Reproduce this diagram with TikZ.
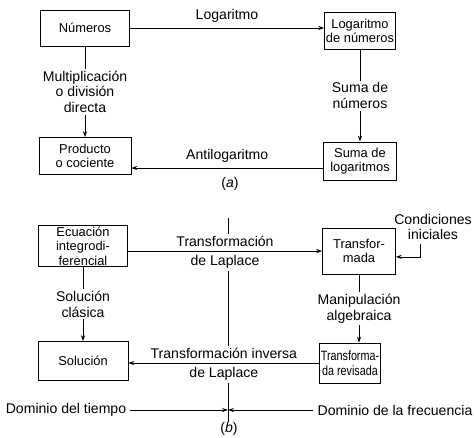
\documentclass[tikz,border=0pt]{standalone}
\usepackage{fontspec}
\setmainfont{Liberation Sans}
\newfontfamily\narrowfont[FakeStretch=0.8]{Liberation Sans}
\usetikzlibrary{arrows.meta}

\begin{document}
\begin{tikzpicture}[
  x=0.03cm, y=-0.03cm,
  font=\fontsize{12}{13.5}\selectfont,
  box/.style={draw, line width=0.7pt, align=center, inner sep=1pt, font=\fontsize{11}{12.5}\selectfont},
  lbl/.style={align=center, inner sep=1.5pt, fill=white},
  >={Stealth[length=5pt,width=3.5pt]}, line width=0.6pt
]
\useasboundingbox (0,0) rectangle (474,437);

% (a) logaritmos
\node[box, minimum width=2.67cm, minimum height=1.08cm] (num) at (85,28) {Números};
\node[box, minimum width=2.13cm, minimum height=1.11cm] (logn) at (360,31) {Logaritmo\\de números};
\node[box, minimum width=2.76cm, minimum height=1.11cm] (prod) at (85,156) {Producto\\o cociente};
\node[box, minimum width=2.19cm, minimum height=1.14cm] (suml) at (360,161) {Suma de\\logaritmos};

\draw[->] (num.east) -- node[above=1pt] {Logaritmo} (num.east -| logn.west);
\draw[->] (num) -- node[lbl] {Multiplicación\\o división\\directa} (prod);
\draw[->] (logn) -- node[lbl] {Suma de\\números} (suml);
\draw[->] ([yshift=-6pt]suml.west) -- node[above=1pt] {Antilogaritmo} ([yshift=-6pt]suml.west -| prod.east);

\node (capa) at (230,184) {(\textit{a})};

% (b) Laplace
\node[box, minimum width=2.67cm, minimum height=1.23cm] (ecu) at (83,246) {Ecuación\\integrodi-\\ferencial};
\node[box, minimum width=2.19cm, minimum height=1.38cm] (trf) at (359,251) {Transfor-\\mada};
\node[box, minimum width=1.71cm, minimum height=1.2cm, font=\fontsize{11.5}{12.5}\selectfont\narrowfont] (rev) at (350,363) {Transforma-\\da revisada};
\node[box, minimum width=2.7cm, minimum height=1.17cm] (sol) at (83,361) {Solución};
\node[align=center] (cond) at (433,227) {Condiciones\\iniciales};

\draw[->] (ecu.east |- trf.west) -- node[lbl, above=2pt] (tl1) {Transformación}
  node[lbl, below=2pt] (tl2) {de Laplace} (trf.west);
\draw[->] (rev.west) -- node[lbl, above=2pt] (til1) {Transformación inversa}
  node[lbl, below=2pt] (til2) {de Laplace} (rev.west -| sol.east);
\draw[->] (ecu) -- node[lbl] {Solución\\clásica} (sol);
\draw[->] (trf) -- node[lbl] {Manipulación\\algebraica} (trf |- rev.north);
\draw[->] ([xshift=-0.39cm]cond.south) |- ([yshift=-5pt]trf.east);

% frontera entre dominios
\coordinate (dtop) at (228,218);
\coordinate (dbot) at (228,422);
\draw (dtop) -- (dtop |- tl1.north);
\draw (tl2.south -| dtop) -- (dtop |- til1.north);
\draw (til2.south -| dtop) -- (dbot);

\node (tie) at (66,410) {Dominio del tiempo};
\node (fre) at (395,410) {Dominio de la frecuencia};
\draw[->] (tie.east) -- (tie.east -| dbot);
\draw[->] (fre.west) -- (fre.west -| dbot);

\node (capb) at (229,429) {(\textit{b})};
\end{tikzpicture}
\end{document}
